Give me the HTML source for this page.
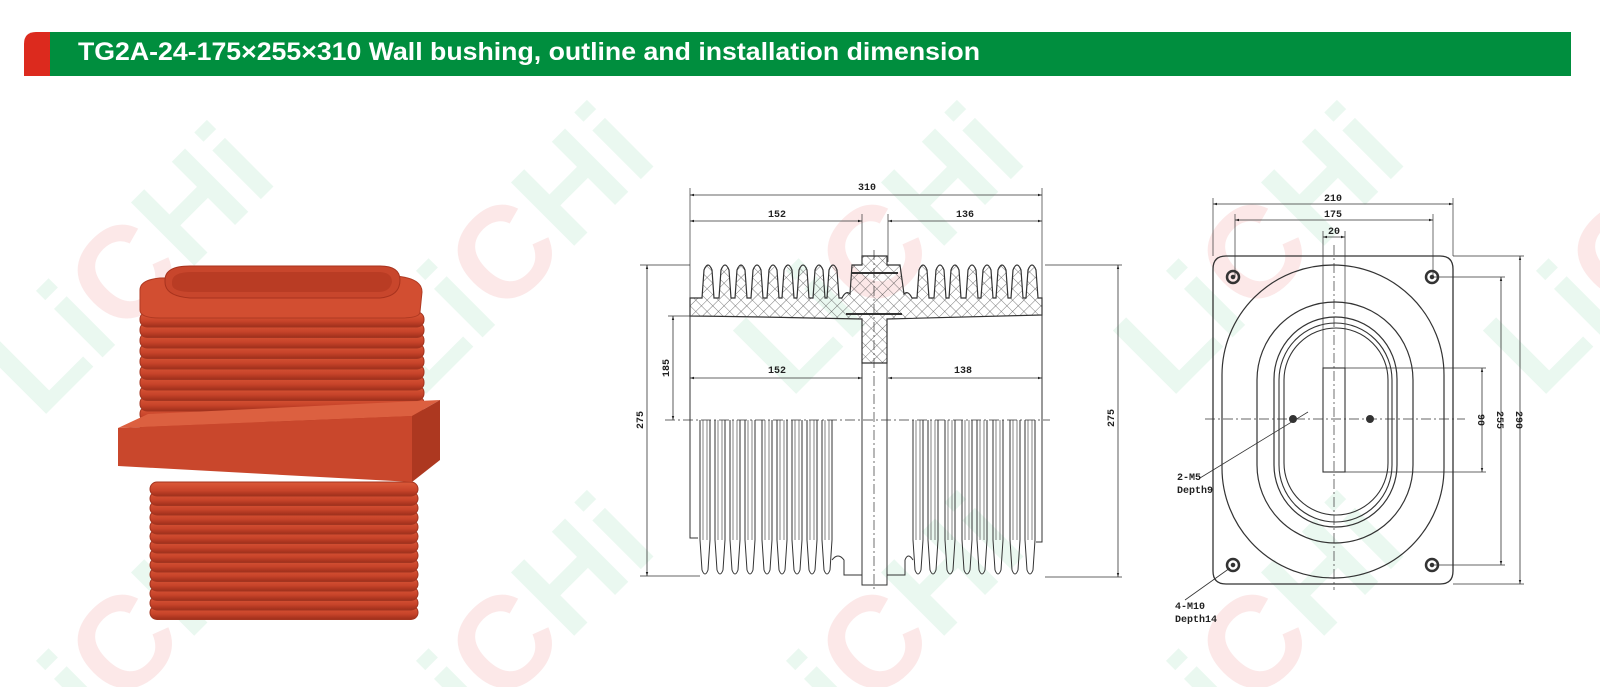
<!DOCTYPE html>
<html><head><meta charset="utf-8"><style>
html,body{margin:0;padding:0;background:#fff;width:1600px;height:687px;overflow:hidden;}
svg{display:block;}
.d{stroke:#333;stroke-width:1;fill:none;}
.t{font-family:"Liberation Mono",monospace;font-size:10px;fill:#222;font-weight:bold;}
</style></head><body>
<svg id="s" width="1600" height="687" viewBox="0 0 1600 687" xmlns="http://www.w3.org/2000/svg">
<defs>
<pattern id="hx" width="8" height="8" patternUnits="userSpaceOnUse" patternTransform="rotate(45)">
<path d="M0 0H8M0 0V8" stroke="#555" stroke-width="0.8"/>
</pattern>
<marker id="a" viewBox="0 0 10 10" refX="10" refY="5" markerWidth="7" markerHeight="5" orient="auto-start-reverse"><path d="M0 2L10 5L0 8z" fill="#222"/></marker>
<linearGradient id="fin" x1="0" y1="0" x2="0" y2="1"><stop offset="0" stop-color="#dc5a3a"/><stop offset=".6" stop-color="#c8442a"/><stop offset="1" stop-color="#9e2f1b"/></linearGradient>
</defs>
<!-- watermarks -->
<g font-family="Liberation Sans,sans-serif" font-weight="bold" font-size="130" opacity="0.42">
<text transform="translate(40,420) rotate(-45)" fill="#cdeedb">Li<tspan fill="#f7c9c9">C</tspan>Hi</text>
<text transform="translate(420,400) rotate(-45)" fill="#cdeedb">Li<tspan fill="#f7c9c9">C</tspan>Hi</text>
<text transform="translate(790,400) rotate(-45)" fill="#cdeedb">Li<tspan fill="#f7c9c9">C</tspan>Hi</text>
<text transform="translate(1170,400) rotate(-45)" fill="#cdeedb">Li<tspan fill="#f7c9c9">C</tspan>Hi</text>
<text transform="translate(1540,400) rotate(-45)" fill="#cdeedb">Li<tspan fill="#f7c9c9">C</tspan>Hi</text>
<text transform="translate(40,790) rotate(-45)" fill="#cdeedb">Li<tspan fill="#f7c9c9">C</tspan>Hi</text>
<text transform="translate(420,790) rotate(-45)" fill="#cdeedb">Li<tspan fill="#f7c9c9">C</tspan>Hi</text>
<text transform="translate(790,790) rotate(-45)" fill="#cdeedb">Li<tspan fill="#f7c9c9">C</tspan>Hi</text>
<text transform="translate(1170,790) rotate(-45)" fill="#cdeedb">Li<tspan fill="#f7c9c9">C</tspan>Hi</text>
</g>
<!-- header -->
<rect x="50" y="32" width="1521" height="44" fill="#008e3e"/>
<path d="M24 76V44Q24 32 36 32H50V76Z" fill="#dc2a1e"/>
<text x="78" y="60" font-family="Liberation Sans,sans-serif" font-weight="bold" font-size="25" fill="#fff" textLength="902" lengthAdjust="spacingAndGlyphs">TG2A-24-175×255×310 Wall bushing, outline and installation dimension</text>

<!-- photo -->
<g id="photo"></g>

<g id="mid" class="d"></g>
<g id="right" class="d"></g>
<g class="t">
<text x="867" y="190" text-anchor="middle">310</text>
<text x="777" y="217" text-anchor="middle">152</text>
<text x="965" y="217" text-anchor="middle">136</text>
<text x="777" y="373" text-anchor="middle">152</text>
<text x="963" y="373" text-anchor="middle">138</text>
<text transform="translate(669,368) rotate(-90)" text-anchor="middle">185</text>
<text transform="translate(643,420) rotate(-90)" text-anchor="middle">275</text>
<text transform="translate(1114,418) rotate(-90)" text-anchor="middle">275</text>
<text x="1333" y="201" text-anchor="middle">210</text>
<text x="1333" y="217" text-anchor="middle">175</text>
<text x="1334" y="234" text-anchor="middle">20</text>
<text transform="translate(1478,420) rotate(90)" text-anchor="middle">90</text>
<text transform="translate(1497,420) rotate(90)" text-anchor="middle">255</text>
<text transform="translate(1516,420) rotate(90)" text-anchor="middle">290</text>
<text x="1177" y="480">2-M5</text>
<text x="1177" y="493">Depth9</text>
<text x="1175" y="609">4-M10</text>
<text x="1175" y="622">Depth14</text>
</g>
</svg>
<script>
const NS="http://www.w3.org/2000/svg";
function el(p,tag,at){const e=document.createElementNS(NS,tag);for(const k in at)e.setAttribute(k,at[k]);p.appendChild(e);return e;}
const ph=document.getElementById('photo');
for(let i=13;i>=0;i--){const y=482+i*9.5;el(ph,'rect',{x:150,y:y,width:268,height:14,rx:7,fill:'url(#fin)',stroke:'#a33520','stroke-width':1});}
for(let i=11;i>=0;i--){const y=312+i*10.5;el(ph,'rect',{x:140,y:y,width:284,height:15,rx:7,fill:'url(#fin)',stroke:'#a33520','stroke-width':1});}
el(ph,'path',{d:'M140 290Q140 280 160 278L395 276Q422 278 422 292L420 312Q420 318 400 318H160Q140 318 140 310Z',fill:'#d24e31',stroke:'#b03a22'});
el(ph,'path',{d:'M165 280Q165 266 190 266H380Q400 266 400 280Q400 296 380 298H190Q165 296 165 282Z',fill:'#c8462c',stroke:'#a8331e'});
el(ph,'path',{d:'M172 282Q172 272 192 272H378Q392 272 392 282Q390 292 378 292H192Q172 292 172 284Z',fill:'#b93c24'});
// flange slab
el(ph,'path',{d:'M118 428L148 414L440 400L412 416Z',fill:'#dc6040'});
el(ph,'path',{d:'M118 428L412 416L412 482L118 466Z',fill:'#c9472c'});
el(ph,'path',{d:'M412 416L440 400L440 460L412 482Z',fill:'#ad3820'});
const m=document.getElementById('mid');
function L(g,d,ex){const a={d:d};Object.assign(a,ex||{});return el(g,'path',a);}
const lc=[708,725,741,757,773,788,803,819,833];
const rc=[923,940,955,972,987,1002,1017,1032];
let d2='M690 302V298';
for(const c of lc){d2+=`L${c-6} 298L${c-4} 270Q${c} 260 ${c+4} 270L${c+6} 298`;}
d2+='L842 298Q846 290 850 294L852 265H862V256H887V265H900L904 294Q908 290 912 298';
for(const c of rc){d2+=`L${c-6} 298L${c-4} 270Q${c} 260 ${c+4} 270L${c+6} 298`;}
d2+='L1042 298V315Q960 317 887 319V363H862V319Q770 317 690 316Z';
L(m,d2,{fill:'url(#hx)',stroke:'#333','stroke-width':1.2});
L(m,'M852 273H898M846 314H902',{'stroke-width':2});
L(m,'M862 363V585H887V363',{});
L(m,'M874 250V590',{'stroke-dasharray':'10 3 2 3','stroke-width':0.7});
L(m,'M690 316V538H698');
const lf=[705,720,735,750,767,782,797,812,827];
for(const c of lf){L(m,`M${c-5} 420V540L${c-3} 570Q${c} 578 ${c+3} 570L${c+5} 540V420`);L(m,`M${c-2} 420V540M${c+2} 420V540`,{'stroke-width':0.6});}
L(m,'M832 560Q838 552 844 560V575H862');
const rf=[918,933,950,967,982,998,1015,1030];
L(m,'M1042 315V542H1036');
for(const c of rf){L(m,`M${c-5} 420V540L${c-3} 570Q${c} 578 ${c+3} 570L${c+5} 540V420`);L(m,`M${c-2} 420V540M${c+2} 420V540`,{'stroke-width':0.6});}
L(m,'M887 575H905V560Q908 552 913 560');
const ar={'marker-start':'url(#a)','marker-end':'url(#a)','stroke-width':0.8};
L(m,'M690 195H1042',ar);L(m,'M690 221H862',ar);L(m,'M888 221H1042',ar);
L(m,'M690 378H862',ar);L(m,'M888 378H1042',ar);
L(m,'M647 265V576',ar);L(m,'M673 316V420',ar);L(m,'M1118 265V577',ar);
const th={'stroke-width':0.7};
L(m,'M690 188V302M1042 188V300M862 214V256M888 214V262',th);
L(m,'M640 265H690M640 576H700M668 316H690M1045 265H1122M1045 577H1122',th);
L(m,'M665 420H1050',{'stroke-dasharray':'10 3 2 3','stroke-width':0.7});
const r=document.getElementById('right');
L(r,'M1226 256H1440Q1453 256 1453 269V571Q1453 584 1440 584H1226Q1213 584 1213 571V269Q1213 256 1226 256Z',{'stroke-width':1.3});
function stad(x1,y1,x2,y2,ry){const rx=(x2-x1)/2;return `M${x1} ${y1+ry}A${rx} ${ry} 0 0 1 ${x2} ${y1+ry}V${y2-ry}A${rx} ${ry} 0 0 1 ${x1} ${y2-ry}Z`;}
L(r,stad(1222,265,1444,578,110),{'stroke-width':1.2});
L(r,stad(1257,302,1413,543,78),{'stroke-width':1.2});
L(r,stad(1274,317,1397,527,62),{'stroke-width':1.2});
L(r,stad(1279,323,1392,522,57),{'stroke-width':1.1});
L(r,stad(1284,328,1388,515,52),{'stroke-width':1.1});
el(r,'rect',{x:1323,y:368,width:22,height:104,'stroke-width':1.1});
for(const [x,y] of [[1233,277],[1432,277],[1233,565],[1432,565]]){el(r,'circle',{cx:x,cy:y,r:6,'stroke-width':2.5});el(r,'circle',{cx:x,cy:y,r:1.8,fill:'#333'});}
for(const [x,y] of [[1293,419],[1370,419]]){el(r,'circle',{cx:x,cy:y,r:3.5,fill:'#333'});}
const dash={'stroke-dasharray':'10 3 2 3','stroke-width':0.7};
L(r,'M1205 419H1465',dash);L(r,'M1334 245V590',dash);
L(r,'M1213 204H1453',ar);L(r,'M1235 220H1433',ar);L(r,'M1323 237H1345',ar);
L(r,'M1213 198V256M1453 198V256M1235 214V277M1433 214V277M1323 231V368M1345 231V368',th);
L(r,'M1482 368V472',ar);L(r,'M1501 277V565',ar);L(r,'M1520 256V584',ar);
L(r,'M1345 368H1486M1345 472H1486M1432 277H1505M1432 565H1505M1453 256H1524M1453 584H1524',th);
L(r,'M1200 478L1308 412',{'stroke-width':0.8});
L(r,'M1185 600L1230 568',{'stroke-width':0.8});
</script>
</body></html>
